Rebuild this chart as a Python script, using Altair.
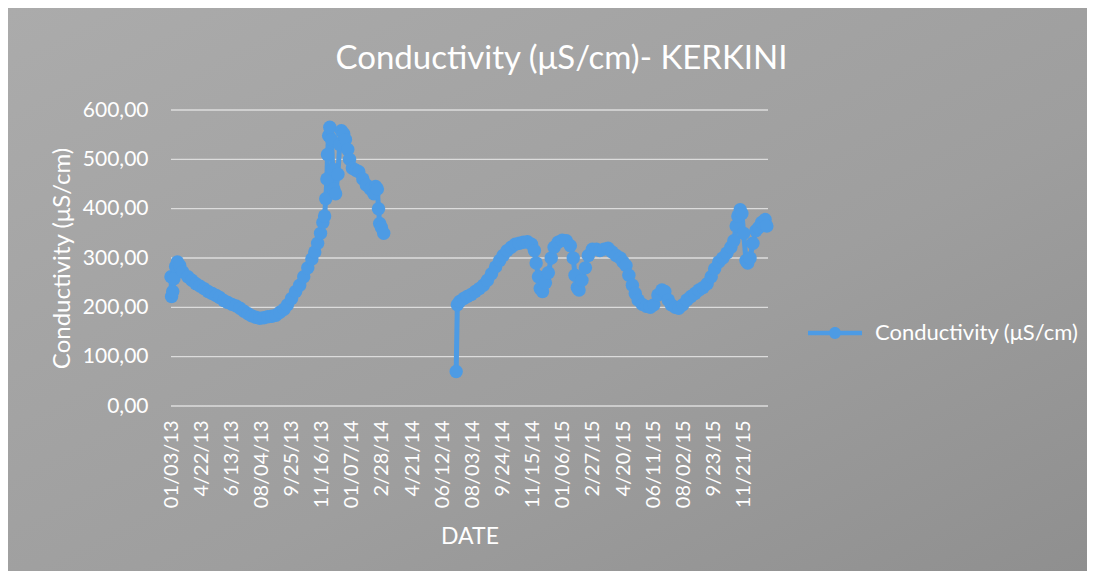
import altair as alt
import pandas as pd

SERIES = "Conductivity (μS/cm)"
TITLE = "Conductivity (μS/cm)- KERKINI"

# day offsets from the first sample (first segment, 2013 - early 2014)
seg1_days = [0, 1, 3, 5, 8, 11, 15, 20, 29, 36, 43, 50, 57, 64, 71, 78,
             84, 91, 98, 105, 112, 119, 126, 133, 139, 146, 153, 160, 167, 174, 181, 188,
             195, 201, 208, 215, 222, 229, 236, 243, 248, 253, 258, 262, 265, 267, 269, 270,
             272, 274, 277, 279, 281, 284, 288, 291, 294, 298, 301, 305, 308, 313, 319, 324,
             331, 337, 344, 350, 353, 356, 358, 360, 363, 367]
seg1_vals = [262, 222, 232, 258, 283, 292, 285, 272, 262, 255, 248, 243, 238, 232, 228, 224,
             220, 214, 210, 206, 203, 198, 192, 187, 183, 180, 178, 179, 181, 182, 184, 190,
             196, 205, 218, 232, 245, 262, 280, 298, 312, 330, 350, 372, 385, 420, 460, 510,
             548, 565, 540, 480, 440, 430, 470, 530, 558, 552, 540, 520, 500, 482, 478, 475,
             460, 448, 440, 430, 445, 440, 400, 370, 362, 350]

# second segment (mid 2014 - end 2015)
seg2_days = [492, 494, 498, 505, 511, 518, 525, 532, 539, 546, 553, 560, 567, 573, 580, 587,
             594, 601, 608, 615, 622, 627, 630, 634, 637, 641, 646, 651, 656, 661, 668, 675,
             682, 689, 694, 697, 701, 704, 709, 715, 720, 727, 734, 740, 747, 754, 761, 768,
             775, 780, 785, 790, 796, 801, 806, 813, 820, 827, 833, 840, 847, 852, 858, 863,
             870, 876, 883, 890, 897, 904, 911, 918, 925, 932, 938, 945, 952, 959, 966, 971,
             975, 978, 982, 985, 988, 992, 995, 999, 1004, 1009, 1014, 1019, 1025, 1028]
seg2_vals = [70, 205, 212, 218, 222, 226, 232, 238, 245, 255, 268, 282, 295, 305, 315, 322,
             328, 330, 332, 333, 328, 315, 290, 262, 238, 232, 250, 270, 300, 322, 332, 336,
             335, 325, 300, 265, 240, 235, 255, 280, 305, 318, 318, 315, 318, 320, 312, 305,
             300, 292, 285, 265, 245, 228, 215, 206, 202, 200, 205, 225, 235, 232, 215, 205,
             200, 198, 205, 215, 222, 228, 235, 240, 248, 262, 278, 292, 300, 310, 322, 335,
             365, 385, 398, 390, 350, 295, 290, 300, 330, 355, 362, 372, 378, 365]

x_tick_labels = ["01/03/13", "4/22/13", "6/13/13", "08/04/13", "9/25/13", "11/16/13",
                 "01/07/14", "2/28/14", "4/21/14", "06/12/14", "08/03/14", "9/24/14",
                 "11/15/14", "01/06/15", "2/27/15", "4/20/15", "06/11/15", "08/02/15",
                 "9/23/15", "11/21/15"]
TICK_STEP = 52
x_tick_days = [i * TICK_STEP for i in range(len(x_tick_labels))]
y_ticks = [0, 100, 200, 300, 400, 500, 600]

rows = []
for d, v in zip(seg1_days, seg1_vals):
    rows.append({"day": d, "value": v, "seg": 1, "series": SERIES})
for d, v in zip(seg2_days, seg2_vals):
    rows.append({"day": d, "value": v, "seg": 2, "series": SERIES})
df = pd.DataFrame(rows)
df["order"] = range(len(df))

W, H = 597, 296
PL, PT = 163, 102
TOTAL_W, TOTAL_H = 1079, 563

FONT = "Lato"
WHITE = "#ffffff"
BLUE = "#4d9be4"

x_scale = alt.Scale(domain=[0, 1030], nice=False, zero=False)
y_scale = alt.Scale(domain=[0, 600], nice=False)

label_array = "[" + ",".join("'" + s + "'" for s in x_tick_labels) + "]"

y_axis = alt.Axis(
    values=y_ticks,
    labelExpr="replace(format(datum.value, '.2f'), '.', ',')",
    grid=False, domain=False, ticks=False,
    labelPadding=23, labelColor=WHITE, labelFont=FONT, labelFontSize=21,
    title=SERIES, titleColor=WHITE, titleFont=FONT, titleFontSize=24,
    titleFontWeight="normal", titlePadding=8, zindex=1,
)
x_axis = alt.Axis(
    values=x_tick_days,
    labelExpr=label_array + "[round(datum.value / " + str(TICK_STEP) + ")]",
    labelAngle=270, labelOverlap=False,
    grid=False, domain=False, ticks=False,
    labelPadding=14, labelColor=WHITE, labelFont=FONT, labelFontSize=20,
    title="DATE", titleColor=WHITE, titleFont=FONT, titleFontSize=23,
    titleFontWeight="normal", titlePadding=18, zindex=1,
)

gradient = alt.LinearGradient(
    gradient="linear",
    stops=[alt.GradientStop(color="#ababab", offset=0),
           alt.GradientStop(color="#9e9e9e", offset=0.6),
           alt.GradientStop(color="#8f8f8f", offset=1)],
    x1=0, y1=0, x2=1, y2=1,
)

bg = alt.Chart(pd.DataFrame({"a": [0]})).mark_rect(fill=gradient, clip=False).encode(
    x=alt.value(-PL), x2=alt.value(TOTAL_W - PL),
    y=alt.value(-PT), y2=alt.value(TOTAL_H - PT),
)

grid = alt.Chart(pd.DataFrame({"v": y_ticks})).mark_rule(
    color="#dcdcdc", strokeWidth=1.4
).encode(y=alt.Y("v:Q", scale=y_scale, axis=y_axis))

LEGEND_PATH = ("M-1,-0.08 L1,-0.08 L1,0.08 L-1,0.08 Z "
               "M0.22,0 A0.22,0.22 0 1,1 -0.22,0 A0.22,0.22 0 1,1 0.22,0 Z")

line = alt.Chart(df).mark_line(
    strokeWidth=5,
    point=alt.OverlayMarkDef(filled=True, size=180, opacity=1),
).encode(
    x=alt.X("day:Q", scale=x_scale, axis=x_axis),
    y=alt.Y("value:Q", scale=y_scale, axis=y_axis),
    color=alt.Color(
        "series:N",
        scale=alt.Scale(domain=[SERIES], range=[BLUE]),
        legend=alt.Legend(
            title=None, orient="none", legendX=637, legendY=196,
            symbolType=LEGEND_PATH, symbolSize=2916,
            symbolFillColor=BLUE, symbolStrokeColor=BLUE, symbolStrokeWidth=0,
            labelColor=WHITE, labelFont=FONT, labelFontSize=22, labelOffset=13,
            labelLimit=400, padding=0, zindex=1,
        ),
    ),
    detail="seg:N",
    order="order:Q",
)

chart = alt.layer(bg, grid, line).properties(
    width=W, height=H,
    padding={"left": PL, "top": PT, "right": TOTAL_W - PL - W, "bottom": TOTAL_H - PT - H},
    autosize=alt.AutoSizeParams(type="none"),
    background="#a0a0a0",
    title=alt.TitleParams(
        TITLE, font=FONT, fontSize=33, fontWeight="normal", color=WHITE,
        anchor="middle", frame="group", dx=92, offset=-68, zindex=1,
    ),
).configure_view(stroke=None)

chart.save("out.html", embed_options={"renderer": "svg", "actions": False})
